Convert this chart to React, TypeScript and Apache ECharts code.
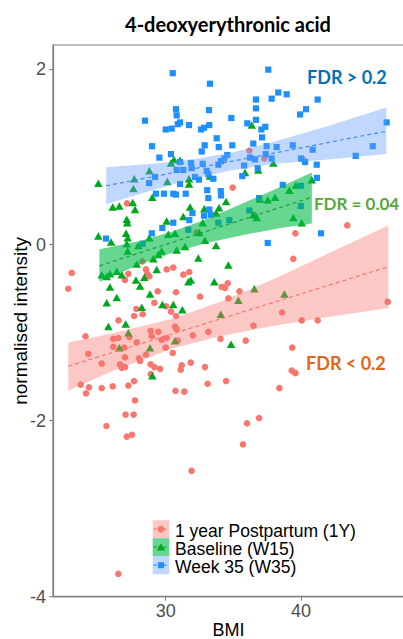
import React, { useEffect, useRef } from "react";
import * as echarts from "echarts";

// ---- data (BMI, normalised intensity) ----
const y1Points: number[][] = [
  [36.18,1.07],[37.29,0.98],[40.13,0.97],[34.95,0.65],[27.14,0.47],[43.42,0.22],[39.58,0.13],[36.53,0.34],[32.29,0.14],[23.05,-0.32],
  [22.80,-0.50],[27.24,-0.33],[26.99,-0.40],[28.27,-0.19],[28.54,-0.28],[28.64,-0.33],[28.79,-0.36],[30.07,-0.28],[30.56,-0.26],[31.30,-0.34],
  [31.74,-0.31],[30.76,-0.54],[29.41,-0.53],[32.54,-0.59],[34.14,-0.48],[34.38,-0.49],[34.58,-0.44],[34.63,-0.61],[29.16,-0.66],[30.02,-0.70],
  [30.39,-0.76],[27.83,-0.73],[27.66,-0.81],[28.30,-0.79],[30.76,-0.81],[26.51,-0.86],[24.07,-1.04],[26.13,-1.07],[26.50,-1.06],[27.31,-1.05],
  [28.89,-0.98],[29.45,-0.99],[28.97,-1.04],[30.07,-1.06],[30.69,-0.93],[30.81,-0.96],[32.00,-1.03],[33.15,-0.99],[34.05,-1.07],[30.00,-1.17],
  [24.28,-1.24],[25.27,-1.35],[26.13,-1.16],[26.94,-1.17],[27.86,-1.11],[29.70,-1.08],[30.89,-1.09],[26.62,-1.36],[26.75,-1.40],[26.99,-1.39],
  [26.99,-1.28],[28.03,-1.29],[28.10,-1.32],[28.54,-1.25],[30.52,-1.23],[28.89,-1.36],[29.16,-1.39],[29.58,-1.41],[28.89,-1.47],[31.18,-1.37],
  [31.11,-1.42],[31.85,-1.34],[32.90,-1.39],[23.72,-1.59],[24.33,-1.62],[24.11,-1.69],[25.27,-1.63],[26.08,-1.61],[27.24,-1.60],[27.66,-1.55],
  [33.10,-1.58],[34.46,-1.55],[30.72,-1.66],[31.37,-1.67],[27.73,-1.77],[27.03,-1.93],[27.63,-1.93],[25.62,-2.06],[27.12,-2.18],[27.51,-2.16],
  [31.91,-2.57],[26.50,-3.74],[35.45,-0.53],[36.49,-0.92],[38.40,-1.63],[38.60,-0.77],[39.35,-1.17],[39.31,-1.43],[39.59,-1.46],[39.43,-0.16],
  [40.05,-0.86],[41.23,-0.86],[46.41,-0.65],[35.91,-1.09],[36.90,-1.97],[36.01,-2.03],[35.71,-2.27]
];

const w15Points: number[][] = [
  [25.02,0.70],[27.68,0.75],[27.61,0.64],[28.79,0.84],[30.61,0.97],[31.06,0.96],[30.39,0.93],[30.12,0.72],[31.72,0.75],[31.72,0.69],
  [33.27,0.78],[35.86,0.82],[36.36,1.36],[36.84,0.85],[37.95,0.93],[29.01,0.54],[27.56,0.48],[26.08,0.43],[26.57,0.44],[27.73,0.40],
  [27.12,0.29],[27.16,0.25],[31.80,0.43],[32.85,0.41],[33.94,0.42],[34.46,0.49],[33.72,0.36],[31.30,0.32],[32.73,0.25],[30.07,0.27],
  [36.73,0.31],[36.47,0.34],[37.54,0.51],[38.08,0.54],[39.14,0.62],[39.63,0.68],[40.79,0.74],[40.05,0.25],[39.43,0.31],[36.97,0.52],
  [25.02,0.10],[25.96,0.03],[27.07,0.13],[27.19,0.08],[30.19,0.12],[30.69,0.13],[32.48,0.14],[32.90,0.05],[33.72,-0.01],[31.43,-0.02],
  [27.12,0.01],[27.19,-0.07],[27.97,-0.01],[28.79,0.08],[30.81,-0.06],[29.70,-0.07],[29.45,-0.11],[32.41,-0.15],[29.08,-0.16],[27.86,-0.22],
  [29.33,-0.28],[34.63,-0.23],[25.27,-0.34],[25.88,-0.33],[26.38,-0.30],[26.75,-0.34],[25.64,-0.36],[27.80,-0.40],[28.42,-0.37],[28.10,-0.47],
  [31.67,-0.42],[31.85,-0.40],[33.59,-0.42],[25.88,-0.48],[28.84,-0.56],[26.38,-0.60],[25.64,-0.66],[29.75,-0.68],[30.56,-0.68],[28.23,-0.71],
  [31.23,-0.74],[25.76,-0.93],[27.04,-0.90],[27.24,-1.00],[34.07,-0.79],[28.84,-1.17],[26.57,-1.17],[34.83,-1.13],[36.55,-0.50],[35.37,-0.63],
  [38.77,-0.56],[30.69,-1.09],[29.01,-1.49]
];

const w35Points: number[][] = [
  [30.52,1.95],[37.58,1.99],[33.27,1.83],[38.32,1.73],[38.94,1.71],[37.83,1.66],[36.67,1.65],[41.23,1.65],[40.37,1.54],[39.93,1.48],
  [30.76,1.54],[30.81,1.47],[33.20,1.53],[36.67,1.55],[36.67,1.42],[34.85,1.44],[28.47,1.41],[31.06,1.39],[30.89,1.37],[30.00,1.31],
  [30.44,1.32],[31.72,1.36],[32.61,1.31],[32.83,1.33],[33.22,1.36],[36.03,1.38],[37.07,1.31],[37.36,1.34],[46.33,1.39],[33.77,1.21],
  [37.12,1.22],[28.99,1.12],[32.88,1.13],[33.92,1.11],[34.92,1.13],[36.47,1.15],[37.46,1.12],[38.20,1.11],[39.39,1.13],[40.86,1.08],
  [45.30,1.12],[44.04,1.01],[32.66,1.06],[30.39,1.03],[29.53,0.99],[34.55,1.02],[34.33,0.98],[34.09,0.95],[31.06,0.94],[31.87,0.93],
  [32.73,0.92],[33.89,0.91],[36.23,0.99],[36.60,0.97],[37.39,1.03],[37.83,0.98],[40.00,0.98],[40.30,0.94],[41.16,0.91],[35.79,0.90],
  [36.80,0.87],[30.81,0.85],[31.30,0.85],[31.92,0.87],[33.03,0.84],[33.15,0.80],[33.52,0.75],[32.17,0.77],[32.46,0.74],[29.21,0.77],
  [28.77,0.70],[35.66,0.78],[41.18,0.76],[31.06,0.69],[38.65,0.68],[40.00,0.67],[29.28,0.58],[29.87,0.58],[30.56,0.58],[30.76,0.57],
  [31.48,0.58],[33.07,0.62],[34.07,0.61],[34.09,0.56],[33.15,0.53],[36.90,0.53],[39.98,0.44],[36.18,0.39],[33.22,0.40],[32.83,0.33],
  [33.33,0.34],[31.97,0.36],[31.74,0.28],[34.70,0.28],[33.89,0.25],[30.56,0.25],[29.75,0.19],[28.97,0.13],[31.67,0.17],[41.48,0.13],
  [37.54,0.02],[25.59,0.07],[28.30,0.01]
];

// confidence bands: [BMI, lower, upper]
const y1Band: number[][] = [[22.8,-1.66,-1.11],[26,-1.44,-1.01],[30.5,-1.18,-0.84],[34,-1.04,-0.65],[38,-0.92,-0.39],[42,-0.82,-0.10],[46.45,-0.72,0.22]];
const w15Band: number[][] = [[25.1,-0.42,-0.05],[28,-0.23,0.04],[30.5,-0.09,0.15],[33,0.02,0.29],[36,0.12,0.49],[38.5,0.19,0.66],[40.8,0.24,0.82]];
const w35Band: number[][] = [[25.6,0.46,0.88],[29,0.62,0.92],[32,0.75,0.97],[35,0.85,1.05],[38,0.92,1.17],[42,0.97,1.35],[46.3,1.03,1.56]];

// fitted lines
const y1Fit: number[][] = [[22.8,-1.38],[46.45,-0.25]];
const w15Fit: number[][] = [[25.1,-0.24],[40.8,0.54]];
const w35Fit: number[][] = [[25.6,0.67],[46.3,1.29]];

const seriesNames = ["1 year Postpartum (1Y)", "Baseline (W15)", "Week 35 (W35)"];
const fdrLabels = ["FDR < 0.2", "FDR = 0.04", "FDR > 0.2"];
const xTicks = [30, 40];
const yTicks = [-4, -2, 0, 2];

const RED = "#F8766D";
const GREEN = "#00A61E";
const BLUE = "#1E8FFF";
const RED_FILL = "rgba(248,118,109,0.4)";
const GREEN_FILL = "rgba(0,186,70,0.6)";
const BLUE_FILL = "rgba(97,156,255,0.4)";

const AXIS_GRAY = "#808080";
const LABEL_GRAY = "#4D4D4D";
const SANS = "'Liberation Sans', Arial, sans-serif";
const CAL = "Lato, 'Open Sans', sans-serif";

function bandSeries(band: number[][], fill: string) {
  return {
    type: "custom",
    silent: true,
    data: band,
    encode: { x: 0, y: 1 },
    z: 5,
    renderItem: (params: any, api: any) => {
      if (params.dataIndex !== 0) return null;
      const upper = band.map((d) => api.coord([d[0], d[2]]));
      const lower = band.map((d) => api.coord([d[0], d[1]])).reverse();
      return {
        type: "polygon",
        shape: { points: upper.concat(lower) },
        style: { fill },
      };
    },
  };
}

function fitSeries(fit: number[][], color: string) {
  return {
    type: "line",
    data: fit,
    symbol: "none",
    silent: true,
    z: 6,
    lineStyle: { color, width: 1.2, type: [4, 3] },
  };
}

export default function App() {
  const ref = useRef<HTMLDivElement>(null);

  useEffect(() => {
    if (!ref.current) return;
    const chart = echarts.init(ref.current, undefined, { renderer: "svg" });

    const legendRows = [529.2, 547.2, 565.2];
    const legendFills = [RED_FILL, GREEN_FILL, BLUE_FILL];
    const legendColors = [RED, GREEN, BLUE];
    const legendGraphics: any[] = [];
    legendRows.forEach((yc, i) => {
      legendGraphics.push({
        type: "rect",
        shape: { x: 152.7, y: yc - 9, width: 16.6, height: 18 },
        style: { fill: legendFills[i] },
        silent: true,
      });
      legendGraphics.push({
        type: "line",
        shape: { x1: 153.5, y1: yc, x2: 168.5, y2: yc },
        style: { stroke: legendColors[i], lineWidth: 1.2, lineDash: [3, 2] },
        silent: true,
      });
      if (i === 0) {
        legendGraphics.push({ type: "circle", shape: { cx: 161, cy: yc, r: 3.4 }, style: { fill: RED }, silent: true });
      } else if (i === 1) {
        legendGraphics.push({
          type: "polygon",
          shape: { points: [[161, yc - 4], [165.2, yc + 3.3], [156.8, yc + 3.3]] },
          style: { fill: GREEN },
          silent: true,
        });
      } else {
        legendGraphics.push({ type: "rect", shape: { x: 158, y: yc - 3, width: 6, height: 6 }, style: { fill: BLUE }, silent: true });
      }
      legendGraphics.push({
        type: "text",
        x: 175,
        y: yc + 1.6,
        style: {
          text: seriesNames[i],
          font: `17.5px ${SANS}`,
          lineHeight: 16,
          fill: "#000000",
          align: "left",
          verticalAlign: "middle",
        },
        silent: true,
      });
    });

    const option: any = {
      animation: false,
      backgroundColor: "#ffffff",
      grid: {
        left: 53,
        right: -1,
        top: 45,
        bottom: 42.3,
        show: true,
        borderColor: AXIS_GRAY,
        borderWidth: 1.2,
        backgroundColor: "transparent",
        containLabel: false,
        outerBoundsMode: "none",
      },
      xAxis: {
        type: "value",
        min: 21.67,
        max: 47.61,
        name: "BMI",
        nameLocation: "middle",
        nameGap: 24,
        nameMoveOverlap: false,
        nameTextStyle: { fontFamily: SANS, fontSize: 18, color: "#000000" },
        splitLine: { show: false },
        axisLine: { show: true, onZero: false, lineStyle: { color: AXIS_GRAY, width: 1.3 } },
        axisTick: { show: true, length: 4, lineStyle: { color: AXIS_GRAY }, customValues: xTicks },
        axisLabel: {
          customValues: xTicks,
          margin: 5,
          fontFamily: SANS,
          fontSize: 18,
          color: LABEL_GRAY,
          formatter: (v: number) => String(v),
        },
      },
      yAxis: {
        type: "value",
        min: -4,
        max: 2.27,
        name: "normalised intensity",
        nameLocation: "middle",
        nameGap: 23,
        nameMoveOverlap: false,
        nameTextStyle: { fontFamily: SANS, fontSize: 19, color: "#000000" },
        splitLine: { show: false },
        axisLine: { show: true, onZero: false, lineStyle: { color: AXIS_GRAY, width: 1.3 } },
        axisTick: { show: true, length: 4, lineStyle: { color: AXIS_GRAY }, customValues: yTicks },
        axisLabel: {
          customValues: yTicks,
          margin: 7,
          fontFamily: SANS,
          fontSize: 18,
          color: LABEL_GRAY,
          formatter: (v: number) => String(v),
        },
      },
      series: [
        {
          name: seriesNames[0],
          type: "scatter",
          data: y1Points,
          symbol: "circle",
          symbolSize: 6.6,
          itemStyle: { color: RED, opacity: 1 },
          silent: true,
          z: 2,
        },
        {
          name: seriesNames[1],
          type: "scatter",
          data: w15Points,
          symbol: "triangle",
          symbolSize: [8.5, 7.5],
          itemStyle: { color: GREEN, opacity: 1 },
          silent: true,
          z: 3,
        },
        {
          name: seriesNames[2],
          type: "scatter",
          data: w35Points,
          symbol: "rect",
          symbolSize: 6.2,
          itemStyle: { color: BLUE, opacity: 1 },
          silent: true,
          z: 4,
        },
        bandSeries(y1Band, RED_FILL),
        bandSeries(w15Band, GREEN_FILL),
        bandSeries(w35Band, BLUE_FILL),
        fitSeries(y1Fit, RED),
        fitSeries(w15Fit, "#16A33C"),
        fitSeries(w35Fit, "#3B8FEA"),
      ],
      graphic: [
        {
          type: "text",
          x: 228,
          y: 24,
          style: {
            text: "4-deoxyerythronic acid",
            font: `bold 20px ${CAL}`,
            fill: "#000000",
            align: "center",
            verticalAlign: "middle",
          },
          silent: true,
        },
        {
          type: "text",
          x: 307,
          y: 77,
          z: 10,
          style: { text: fdrLabels[2], font: `bold 18px ${CAL}`, fill: "#0070C0", align: "left", verticalAlign: "middle" },
          silent: true,
        },
        {
          type: "text",
          x: 314,
          y: 203,
          z: 10,
          style: { text: fdrLabels[1], font: `bold 17px ${CAL}`, fill: "#55A83A", align: "left", verticalAlign: "middle" },
          silent: true,
        },
        {
          type: "text",
          x: 306,
          y: 363,
          z: 10,
          style: { text: fdrLabels[0], font: `bold 18px ${CAL}`, fill: "#E2661A", align: "left", verticalAlign: "middle" },
          silent: true,
        },
        ...legendGraphics,
      ],
    };

    chart.setOption(option);
    return () => chart.dispose();
  }, []);

  return (
    <div
      ref={ref}
      style={{ position: "fixed", left: 0, top: 0, width: 403, height: 639, background: "#fff" }}
    />
  );
}
